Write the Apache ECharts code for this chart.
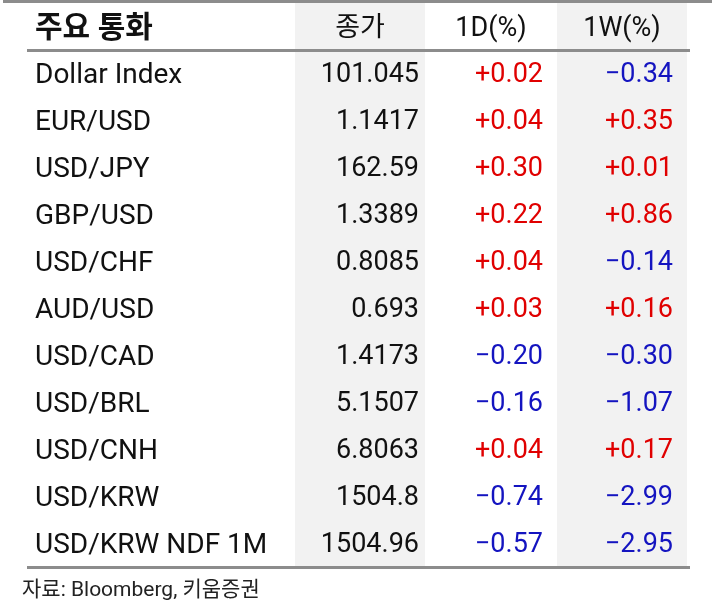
<!DOCTYPE html>
<html>
<head>
<meta charset="utf-8">
<style>
  html, body { margin: 0; padding: 0; background: #fff; }
  #fxTable { width: 712px; height: 607px; }
</style>
<script src="https://cdn.jsdelivr.net/npm/echarts@6/dist/echarts.min.js"></script>
</head>
<body>
<div id="fxTable"></div>
<script>
// 표 데이터
var headers = ['주요 통화', '종가', '1D(%)', '1W(%)'];
var currencies = ['Dollar Index', 'EUR/USD', 'USD/JPY', 'GBP/USD', 'USD/CHF', 'AUD/USD',
  'USD/CAD', 'USD/BRL', 'USD/CNH', 'USD/KRW', 'USD/KRW NDF 1M'];
var closes = [101.045, 1.1417, 162.59, 1.3389, 0.8085, 0.693, 1.4173, 5.1507, 6.8063, 1504.8, 1504.96];
var chg1D = [0.02, 0.04, 0.30, 0.22, 0.04, 0.03, -0.20, -0.16, 0.04, -0.74, -0.57];
var chg1W = [-0.34, 0.35, 0.01, 0.86, -0.14, 0.16, -0.30, -1.07, 0.17, -2.99, -2.95];
var source = '자료: Bloomberg, 키움증권';

window.onload = function () {
  var chart = echarts.init(document.getElementById('fxTable'));

  var FONT = 'Roboto, "Noto Sans CJK KR", sans-serif';
  var RED = '#e00000';
  var BLUE = '#1414c0';
  var INK = '#111111';

  // 열 경계 (x축 단위)
  var colEdge = [0, 268, 398, 530, 660];
  var textRight = [null, 392, 516, 646];
  var textLeft = 8;

  function fmtChg(v) {
    if (v > 0) return '+' + v.toFixed(2);
    if (v < 0) return '\u2212' + Math.abs(v).toFixed(2);
    return v.toFixed(2);
  }

  function cell(x, row, text, color, align, extra) {
    var lab = { show: true, position: 'inside', align: align, color: color, opacity: 1,
      fontFamily: FONT, fontSize: 27, textBorderWidth: 0, textShadowBlur: 0,
      offset: [0, row === 0 ? 3 : 2] };
    if (extra) for (var k in extra) lab[k] = extra[k];
    return { value: [x, row, text], label: lab };
  }

  // 헤더
  var headerData = [cell(textLeft, 0, headers[0], INK, 'left', { fontWeight: 'bold', fontSize: 30 })];
  for (var c = 1; c < 4; c++) {
    headerData.push(cell((colEdge[c] + colEdge[c + 1]) / 2, 0, headers[c], INK, 'center'));
  }

  var nameData = [], closeData = [], d1Data = [], w1Data = [];
  currencies.forEach(function (name, i) {
    var row = i + 1;
    nameData.push(cell(textLeft, row, name, INK, 'left', { fontSize: 28 }));
    closeData.push(cell(textRight[1], row, String(closes[i]), INK, 'right'));
    d1Data.push(cell(textRight[2], row, fmtChg(chg1D[i]), chg1D[i] < 0 ? BLUE : RED, 'right'));
    w1Data.push(cell(textRight[3], row, fmtChg(chg1W[i]), chg1W[i] < 0 ? BLUE : RED, 'right'));
  });

  function textSeries(data) {
    return {
      type: 'scatter',
      symbolSize: 0,
      silent: true,
      itemStyle: { color: 'transparent', opacity: 1 },
      data: data,
      label: { formatter: function (p) { return p.value[2]; } }
    };
  }

  var bgSeries = textSeries(headerData);
  bgSeries.z = 1;
  bgSeries.markArea = {
    silent: true,
    itemStyle: { color: '#f2f2f2', opacity: 1 },
    data: [
      [{ xAxis: colEdge[1], yAxis: -0.5 }, { xAxis: colEdge[2], yAxis: currencies.length + 0.5 }],
      [{ xAxis: colEdge[3], yAxis: -0.5 }, { xAxis: colEdge[4], yAxis: currencies.length + 0.5 }]
    ]
  };
  bgSeries.markLine = {
    silent: true,
    symbol: 'none',
    label: { show: false },
    lineStyle: { color: '#8c8c8c', width: 3, type: 'solid', opacity: 1 },
    data: [{ yAxis: 0.5 }, { yAxis: currencies.length + 0.5 }]
  };

  var option = {
    animation: false,
    grid: { left: 27, right: 22, top: 3, bottom: 40 },
    xAxis: { type: 'value', min: 0, max: 663, show: false },
    yAxis: { type: 'value', inverse: true, min: -0.5, max: currencies.length + 0.5, show: false },
    graphic: [
      { type: 'rect', left: 3, top: 0, shape: { width: 709, height: 3 }, style: { fill: '#8c8c8c' } },
      { type: 'text', left: 22, top: 580,
        style: { text: source, font: '21px ' + FONT, fill: '#222' } }
    ],
    series: [
      bgSeries,
      textSeries(nameData),
      textSeries(closeData),
      textSeries(d1Data),
      textSeries(w1Data)
    ]
  };

  chart.setOption(option);
};
</script>
</body>
</html>
